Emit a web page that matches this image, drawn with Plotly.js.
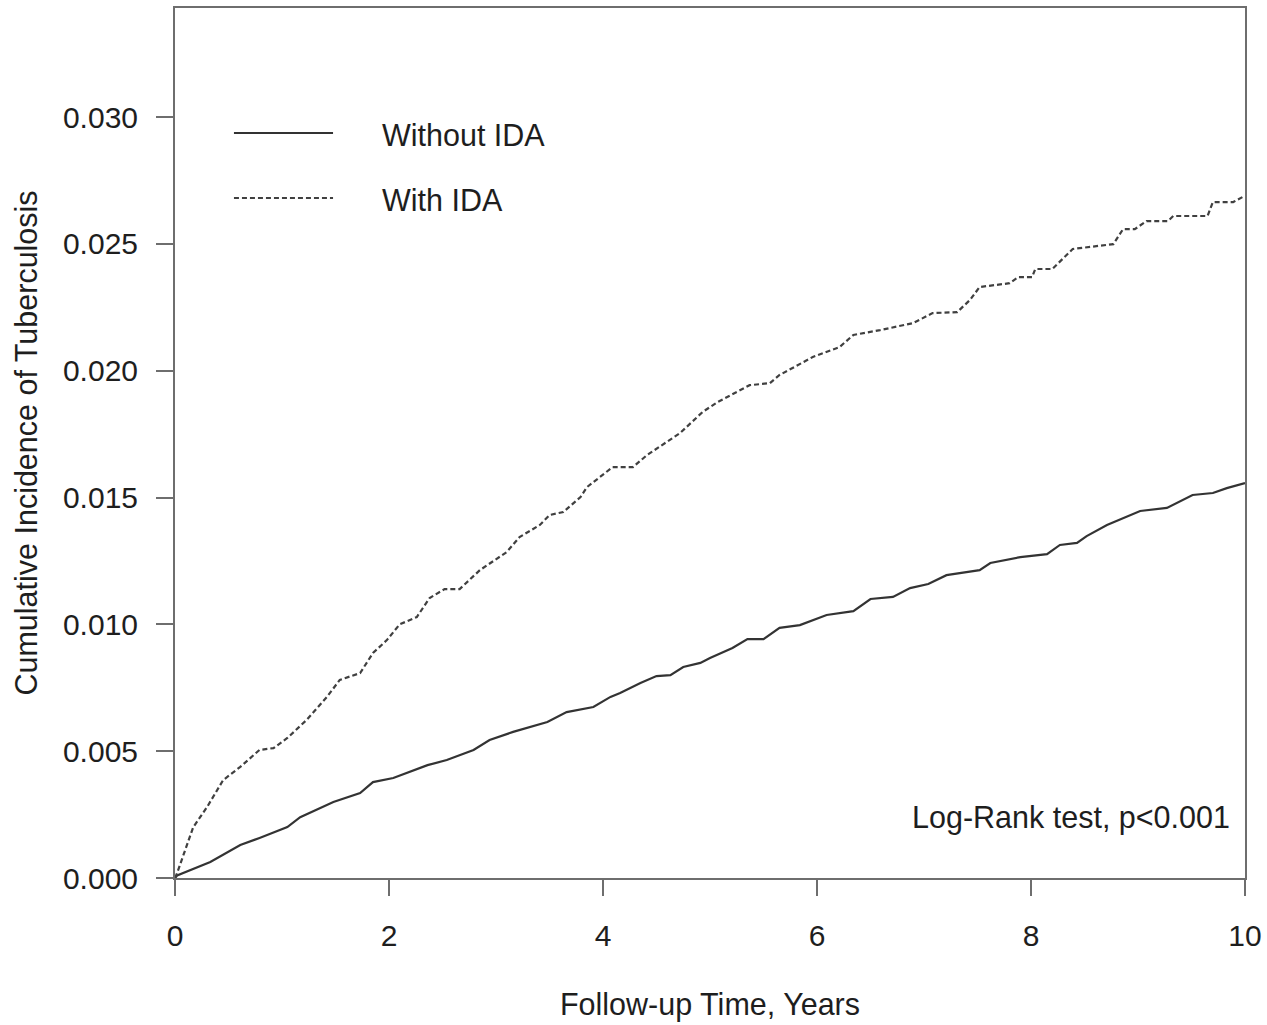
<!DOCTYPE html>
<html>
<head>
<meta charset="utf-8">
<script src="https://cdn.plot.ly/plotly-3.0.1.min.js"></script>
<style>html,body{margin:0;padding:0;background:#fff;}#chart{width:1267px;height:1025px;}</style>
</head>
<body>
<div id="chart"></div>
<script>
// Follow-up time (years) and cumulative incidence
const withIdaTime = [0, 0.02, 0.17, 0.30, 0.45, 0.61, 0.79, 0.92, 1.05, 1.23, 1.42, 1.54, 1.73, 1.85, 1.98, 2.10, 2.26, 2.38, 2.52, 2.66, 2.85, 3.10, 3.22, 3.41, 3.50, 3.63, 3.79, 3.85, 4.09, 4.28, 4.41, 4.60, 4.72, 4.93, 5.07, 5.37, 5.56, 5.65, 5.96, 6.21, 6.34, 6.59, 6.90, 7.08, 7.31, 7.43, 7.52, 7.80, 7.88, 8.01, 8.04, 8.20, 8.39, 8.77, 8.86, 8.97, 9.08, 9.28, 9.33, 9.65, 9.70, 9.89, 9.97, 10.0];
const withIdaInc = [0, 0.0002, 0.0020, 0.0028, 0.00386, 0.00438, 0.00505, 0.00512, 0.00552, 0.00623, 0.00714, 0.00781, 0.00808, 0.00887, 0.00938, 0.01000, 0.01029, 0.01104, 0.01139, 0.01139, 0.01214, 0.01285, 0.01344, 0.01392, 0.01431, 0.01443, 0.01502, 0.01541, 0.01620, 0.01620, 0.01667, 0.01719, 0.01754, 0.01837, 0.01876, 0.01943, 0.01951, 0.01983, 0.02054, 0.02093, 0.02141, 0.02160, 0.02188, 0.02227, 0.02231, 0.02279, 0.02330, 0.02345, 0.02369, 0.02369, 0.02401, 0.02401, 0.02480, 0.02499, 0.02558, 0.02558, 0.02590, 0.02590, 0.02610, 0.02610, 0.02665, 0.02665, 0.02685, 0.02690];

const withoutIdaTime = [0, 0.02, 0.33, 0.61, 0.79, 1.05, 1.17, 1.48, 1.73, 1.85, 2.04, 2.36, 2.54, 2.79, 2.94, 3.16, 3.48, 3.66, 3.91, 4.07, 4.16, 4.35, 4.50, 4.63, 4.75, 4.91, 5.00, 5.21, 5.35, 5.50, 5.65, 5.84, 6.09, 6.34, 6.50, 6.71, 6.87, 7.04, 7.21, 7.52, 7.62, 7.90, 8.15, 8.27, 8.43, 8.52, 8.71, 9.02, 9.27, 9.51, 9.70, 9.83, 10.0];
const withoutIdaInc = [0, 0.0001, 0.00063, 0.0013, 0.00158, 0.00201, 0.0024, 0.0030, 0.00335, 0.00378, 0.00394, 0.00445, 0.00465, 0.00505, 0.00544, 0.00576, 0.00615, 0.00654, 0.00674, 0.00714, 0.00729, 0.00769, 0.00796, 0.00800, 0.00832, 0.00848, 0.00867, 0.00907, 0.00942, 0.00942, 0.00986, 0.00997, 0.01037, 0.01052, 0.01100, 0.01108, 0.01143, 0.01159, 0.01194, 0.01214, 0.01242, 0.01265, 0.01277, 0.01313, 0.01321, 0.01348, 0.01392, 0.01447, 0.01459, 0.01510, 0.01518, 0.01537, 0.01557];

const seriesNames = ["Without IDA", "With IDA"];
const xTickVals = [0, 2, 4, 6, 8, 10];
const yTickVals = [0, 0.005, 0.010, 0.015, 0.020, 0.025, 0.030];
const yTickText = ["0.000", "0.005", "0.010", "0.015", "0.020", "0.025", "0.030"];
const xTitle = "Follow-up Time, Years";
const yTitle = "Cumulative Incidence of Tuberculosis";
const noteText = "Log-Rank test, p<0.001";

const FONT = "Liberation Sans, Arial, sans-serif";
const TXT = "#1e1e1e";
const LINE = "#333333";
const AX = "#6e6e6e";
const TICKSIZE = 30;
const TEXTSIZE = 30.5;

const traces = [
  {x: withoutIdaTime, y: withoutIdaInc, name: seriesNames[0], mode: "lines",
   line: {color: LINE, width: 2.2}, showlegend: false, hoverinfo: "skip"},
  {x: withIdaTime, y: withIdaInc, name: seriesNames[1], mode: "lines",
   line: {color: "#404040", width: 2.2, dash: "5px,3px"}, showlegend: false, hoverinfo: "skip"}
];

const layout = {
  width: 1267, height: 1025,
  margin: {l: 175, r: 22, t: 8, b: 147},
  paper_bgcolor: "#ffffff", plot_bgcolor: "#ffffff",
  font: {family: FONT, size: TEXTSIZE, color: TXT},
  showlegend: false,
  xaxis: {
    range: [0, 10], tickvals: xTickVals, ticks: "outside", ticklen: 16, tickwidth: 2, tickcolor: AX,
    showline: true, linecolor: AX, linewidth: 2, mirror: true, showgrid: false, zeroline: false,
    tickfont: {family: FONT, size: TICKSIZE, color: TXT}, ticklabelstandoff: 14,
    title: {text: xTitle, font: {family: FONT, size: TEXTSIZE, color: TXT}, standoff: 43}
  },
  yaxis: {
    range: [0, 0.0343], tickvals: yTickVals, ticktext: yTickText, ticks: "outside", ticklen: 17, tickwidth: 2, tickcolor: AX,
    showline: true, linecolor: AX, linewidth: 2, mirror: true, showgrid: false, zeroline: false,
    tickfont: {family: FONT, size: TICKSIZE, color: TXT}, ticklabelstandoff: 12,
    title: {text: yTitle, font: {family: FONT, size: TEXTSIZE, color: TXT}, standoff: 16}
  },
  shapes: [
    {type: "line", xref: "paper", yref: "paper", x0: 0.0551, x1: 0.1477, y0: 0.8563, y1: 0.8563,
     line: {color: LINE, width: 2.2}},
    {type: "line", xref: "paper", yref: "paper", x0: 0.0551, x1: 0.1477, y0: 0.7816, y1: 0.7816,
     line: {color: "#404040", width: 2.2, dash: "5px,3px"}}
  ],
  annotations: [
    {xref: "paper", yref: "paper", x: 0.1916, y: 0.854, xanchor: "left", yanchor: "middle",
     text: seriesNames[0], showarrow: false, font: {family: FONT, size: TEXTSIZE, color: TXT}},
    {xref: "paper", yref: "paper", x: 0.1916, y: 0.779, xanchor: "left", yanchor: "middle",
     text: seriesNames[1], showarrow: false, font: {family: FONT, size: TEXTSIZE, color: TXT}},
    {xref: "paper", yref: "paper", x: 0.9879, y: 0.069, xanchor: "right", yanchor: "middle",
     text: noteText, showarrow: false, font: {family: FONT, size: TEXTSIZE, color: TXT}}
  ]
};

Plotly.newPlot("chart", traces, layout, {staticPlot: true, displayModeBar: false});
</script>
</body>
</html>
